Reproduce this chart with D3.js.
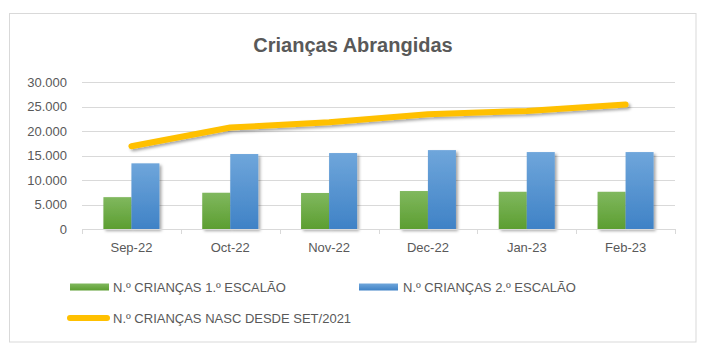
<!DOCTYPE html>
<html>
<head>
<meta charset="utf-8">
<script src="https://cdn.jsdelivr.net/npm/d3@7"></script>
<style>
  html, body { margin: 0; padding: 0; background: #fff; }
  svg { display: block; }
  text { font-family: "Liberation Sans", Arial, sans-serif; fill: #595959; }
</style>
</head>
<body>
<svg id="chart" width="708" height="355"></svg>
<script>
// ---- Data ----
const categories = ["Sep-22", "Oct-22", "Nov-22", "Dec-22", "Jan-23", "Feb-23"];
const escalao1 = [6500, 7400, 7350, 7750, 7600, 7600];
const escalao2 = [13400, 15300, 15500, 16100, 15700, 15700];
const nascDesde = [16900, 20700, 21800, 23400, 24100, 25400];
const yTicks = [0, 5000, 10000, 15000, 20000, 25000, 30000];
const seriesNames = ["N.º CRIANÇAS 1.º ESCALÃO", "N.º CRIANÇAS 2.º ESCALÃO", "N.º CRIANÇAS NASC DESDE SET/2021"];
const titleText = "Crianças Abrangidas";

// ---- Layout ----
const W = 708, H = 355;
const plot = { left: 82, right: 675, top: 82, bottom: 229 };
const svg = d3.select("#chart");

const defs = svg.append("defs");
function grad(id, top, bottom) {
  const g = defs.append("linearGradient").attr("id", id)
    .attr("x1", 0).attr("y1", 0).attr("x2", 0).attr("y2", 1);
  g.append("stop").attr("offset", "0%").attr("stop-color", top);
  g.append("stop").attr("offset", "100%").attr("stop-color", bottom);
}
grad("gGreen", "#80b85e", "#5c9e31");
grad("gBlue", "#6fa6db", "#3f82c6");
const f = defs.append("filter").attr("id", "shadow")
  .attr("x", "-30%").attr("y", "-30%").attr("width", "160%").attr("height", "160%");
f.append("feDropShadow").attr("dx", 2).attr("dy", 2).attr("stdDeviation", 1.8)
  .attr("flood-color", "#000").attr("flood-opacity", 0.35);

// border
svg.append("rect").attr("x", 9.5).attr("y", 13.5).attr("width", 686.5).attr("height", 328.5)
  .attr("fill", "#fff").attr("stroke", "#d9d9d9").attr("stroke-width", 1);

// title
svg.append("text").attr("x", 353).attr("y", 52).attr("text-anchor", "middle")
  .style("font-size", "20px").style("font-weight", "bold").text(titleText);

// scales
const x0 = d3.scaleBand().domain(categories).range([plot.left, plot.right])
  .paddingInner(0.433).paddingOuter(0.2165);
const x1 = d3.scaleBand().domain([0, 1]).range([0, x0.bandwidth()]);
const y = d3.scaleLinear().domain([0, 30000]).range([plot.bottom, plot.top]);
const loc = d3.formatLocale({ decimal: ",", thousands: ".", grouping: [3], currency: ["", "€"] });
const fmt = loc.format(",");

// gridlines
svg.append("g").selectAll("line").data(yTicks.filter(d => d > 0)).join("line")
  .attr("x1", plot.left).attr("x2", plot.right)
  .attr("y1", d => Math.round(y(d)) + 0.5).attr("y2", d => Math.round(y(d)) + 0.5)
  .attr("stroke", "#d9d9d9").attr("stroke-width", 1);

// y axis labels
const yAxis = d3.axisLeft(y).tickValues(yTicks).tickFormat(fmt).tickSize(0).tickPadding(0);
const yg = svg.append("g").attr("transform", `translate(67,0)`).call(yAxis);
yg.select(".domain").remove();
yg.selectAll("text").style("font-size", "13px").attr("fill", "#595959")
  .style("font-family", "'Liberation Sans', Arial, sans-serif");

// bars
const barData = [escalao1, escalao2];
const fills = ["url(#gGreen)", "url(#gBlue)"];
barData.forEach((vals, si) => {
  svg.append("g").attr("filter", "url(#shadow)").selectAll("rect").data(vals).join("rect")
    .attr("x", (d, i) => x0(categories[i]) + x1(si))
    .attr("width", x1.bandwidth())
    .attr("y", d => y(d))
    .attr("height", d => y(0) - y(d))
    .attr("fill", fills[si]);
});

// x axis
const bounds = d3.range(categories.length + 1).map(i => plot.left + i * (plot.right - plot.left) / categories.length);
const xg = svg.append("g");
xg.append("line").attr("x1", plot.left).attr("x2", plot.right)
  .attr("y1", plot.bottom + 0.5).attr("y2", plot.bottom + 0.5)
  .attr("stroke", "#d9d9d9").attr("stroke-width", 1);
xg.selectAll("line.tick").data(bounds).join("line").attr("class", "tick")
  .attr("x1", d => Math.round(d) + 0.5).attr("x2", d => Math.round(d) + 0.5)
  .attr("y1", plot.bottom).attr("y2", plot.bottom + 5)
  .attr("stroke", "#d9d9d9");
const xAxis = d3.axisBottom(x0).tickSize(0).tickPadding(0);
const xa = svg.append("g").attr("transform", `translate(0,${plot.bottom + 14})`).call(xAxis);
xa.select(".domain").remove();
xa.selectAll("text").style("font-size", "13px").attr("fill", "#595959")
  .style("font-family", "'Liberation Sans', Arial, sans-serif");

// line
const line = d3.line().x((d, i) => x0(categories[i]) + x0.bandwidth() / 2).y(d => y(d));
svg.append("path").datum(nascDesde).attr("d", line)
  .attr("fill", "none").attr("stroke", "#ffc000").attr("stroke-width", 6)
  .attr("stroke-linecap", "round").attr("stroke-linejoin", "round")
  .attr("filter", "url(#shadow)");

// legend
const lg = svg.append("g");
lg.append("rect").attr("x", 70).attr("y", 283.5).attr("width", 39).attr("height", 7).attr("fill", "url(#gGreen)");
lg.append("text").attr("x", 113).attr("y", 292).style("font-size", "13px").text(seriesNames[0]);
lg.append("rect").attr("x", 359).attr("y", 283.5).attr("width", 39).attr("height", 7).attr("fill", "url(#gBlue)");
lg.append("text").attr("x", 403).attr("y", 292).style("font-size", "13px").text(seriesNames[1]);
lg.append("line").attr("x1", 70).attr("x2", 107).attr("y1", 318).attr("y2", 318)
  .attr("stroke", "#ffc000").attr("stroke-width", 6).attr("stroke-linecap", "round");
lg.append("text").attr("x", 113).attr("y", 323).style("font-size", "13px").text(seriesNames[2]);
</script>
</body>
</html>
